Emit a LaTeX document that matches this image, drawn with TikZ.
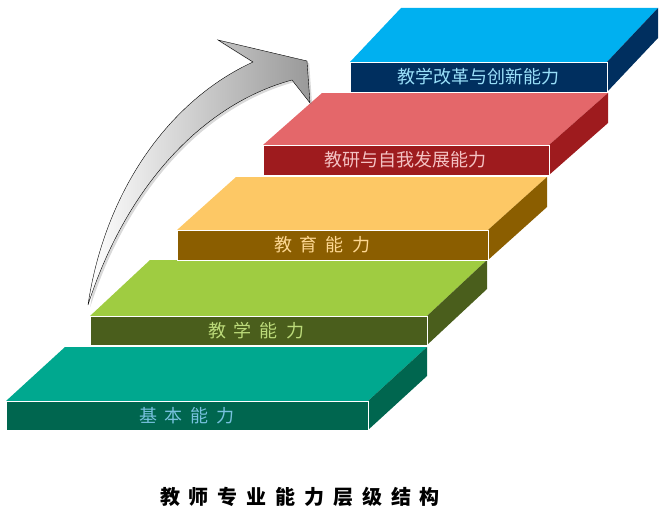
\documentclass[tikz,border=0pt]{standalone}
\usepackage{fontspec}
\newfontfamily\cjk{Noto Sans CJK SC}
\usetikzlibrary{positioning,calc,shadows}

\definecolor{tealtop}{HTML}{00A88F}
\definecolor{tealfront}{HTML}{00664F}
\definecolor{greentop}{HTML}{9FCC41}
\definecolor{greenfront}{HTML}{4A5E1C}
\definecolor{yellowtop}{HTML}{FDC865}
\definecolor{yellowfront}{HTML}{8B5E00}
\definecolor{redtop}{HTML}{E4676A}
\definecolor{redfront}{HTML}{9E1B1E}
\definecolor{bluetop}{HTML}{00B0F0}
\definecolor{bluefront}{HTML}{002F5F}

\tikzset{
	steplabel/.style={font=\cjk\fontsize{18}{20}\selectfont, inner sep=0pt},
	frontface/.style={draw=white, thick},
}

% x0 x1: front edge, y0: top of front, h: front height, dx dy: depth
\newcommand{\stair}[8]{%
	\fill[#7] (#1, #3) -- (#2, #3) -- ({#2+#5}, {#3-#6}) -- ({#1+#5}, {#3-#6}) -- cycle;
	\fill[#8] (#2, #3) -- ({#2+#5}, {#3-#6}) -- ({#2+#5}, {#3-#6+#4}) -- (#2, {#3+#4}) -- cycle;
	\filldraw[#8, frontface] (#1, #3) rectangle (#2, {#3+#4});
}

\begin{document}
\begin{tikzpicture}[x=1pt, y=-1pt]
	\useasboundingbox (0, 0) rectangle (666, 519);

	\stair{6}{368}{401}{29}{59}{54}{tealtop}{tealfront}
	\stair{90}{427}{316}{29}{60}{56}{greentop}{greenfront}
	\stair{177}{488}{230}{30}{59}{53}{yellowtop}{yellowfront}
	\stair{263}{549}{145}{30}{59}{52}{redtop}{redfront}
	\stair{350}{607}{62}{30}{51}{54}{bluetop}{bluefront}

	\node[steplabel, text=cyan!60!teal!60] (basic) at (187, 416) {基\;\,本\;\,能\;\,力};
	\node[steplabel, text=greentop!70!white] (teach) at (256, 331) {教\;\,学\;\,能\;\,力};
	\node[steplabel, text=yellowtop!70!white] (educ) at (322, 245) {教\;\,育\;\,能\;\,力};
	\node[steplabel, text=redtop!40!white] (research) at (405, 160) {教研与自我发展能力};
	\node[steplabel, text=bluetop!40!white] (reform) at (478, 77) {教学改革与创新能力};

	% curved arrow
	\shade[left color=white, right color=gray!80, draw=black, drop shadow={opacity=0.3}]
		(88, 305) .. controls (105, 190) and (170, 100) .. (253, 62)
		-- (218, 40) -- (307, 61) -- (310, 103) -- (292, 80)
		.. controls (200, 105) and (125, 190) .. (88, 305) -- cycle;

	\node[font=\cjk\bfseries\fontsize{20}{22}\selectfont] (title) at (300, 497) {教\;\,师\;\,专\;\,业\;\,能\;\,力\;\,层\;\,级\;\,结\;\,构};
\end{tikzpicture}
\end{document}
